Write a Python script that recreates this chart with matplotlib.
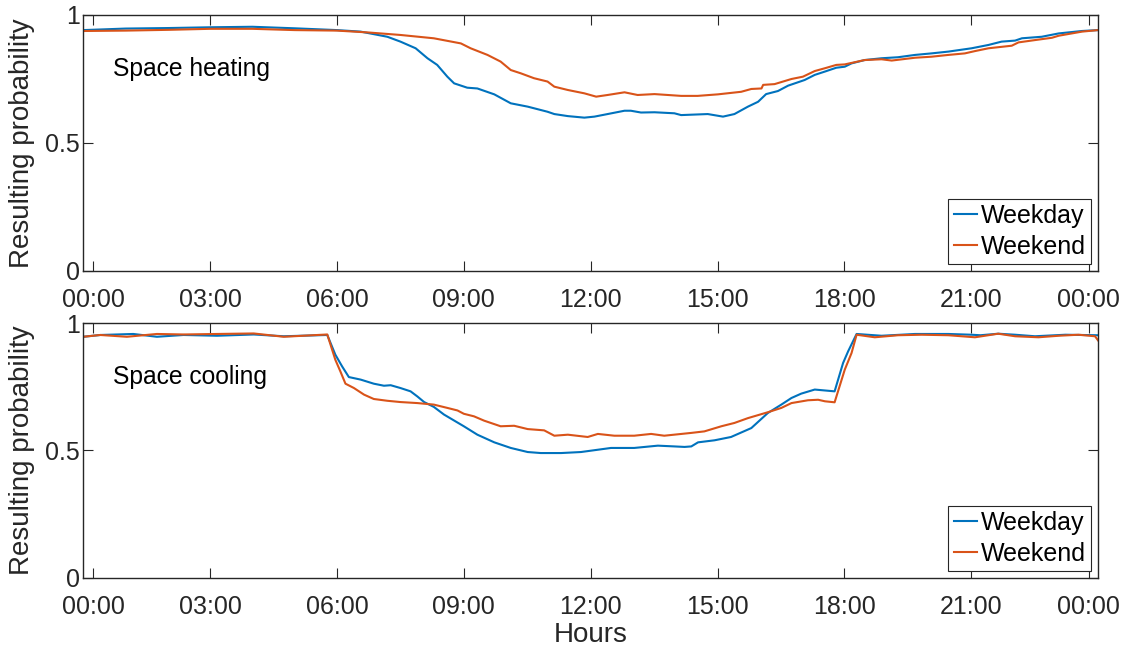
import matplotlib

matplotlib.use("Agg")
import matplotlib.pyplot as plt  # noqa: E402

plt.rcParams["font.family"] = ["Liberation Sans", "DejaVu Sans"]

BLUE = "#0072BD"
ORANGE = "#D95319"
INK = "#262626"
FS_TICK = 18
FS_LABEL = 20
FS_TEXT = 17.7

# --- Space heating, hours of day / probability ---
heat_wd_t = [0, 1, 2, 3, 4, 5, 6, 6.56, 7.19, 7.5, 7.86, 8.14, 8.37, 8.61, 8.77,
             9.08, 9.32, 9.72, 10.11, 10.51, 10.98, 11.14, 11.46, 11.85, 12.09,
             12.40, 12.80, 12.95, 13.19, 13.51, 13.98, 14.14, 14.77, 15.13, 15.40,
             15.72, 15.96, 16.15, 16.43, 16.67, 17.06, 17.30, 17.54, 17.81, 18.01,
             18.17, 18.48, 18.88, 19.27, 19.67, 20.06, 20.46, 21.01, 21.41, 21.72,
             22.04, 22.20, 22.67, 23.07, 23.62, 24]
heat_wd = [0.941, 0.947, 0.949, 0.952, 0.954, 0.948, 0.941, 0.935, 0.915, 0.896,
           0.870, 0.831, 0.805, 0.759, 0.733, 0.716, 0.713, 0.690, 0.655, 0.642,
           0.622, 0.613, 0.605, 0.599, 0.603, 0.613, 0.626, 0.626, 0.619, 0.620,
           0.616, 0.609, 0.613, 0.603, 0.613, 0.642, 0.661, 0.691, 0.703, 0.724,
           0.746, 0.766, 0.779, 0.794, 0.798, 0.811, 0.824, 0.831, 0.835, 0.844,
           0.850, 0.857, 0.870, 0.883, 0.896, 0.900, 0.909, 0.915, 0.928, 0.9375,
           0.941]
heat_we_t = [0, 1, 2, 3, 4, 5, 6, 6.72, 7.5, 8.29, 8.93, 9.16, 9.56, 9.87, 10.11,
             10.35, 10.66, 10.98, 11.14, 11.46, 11.85, 12.13, 12.40, 12.80, 13.11,
             13.51, 14.14, 14.53, 15.01, 15.56, 15.80, 16.04, 16.08, 16.35, 16.75,
             17.02, 17.30, 17.54, 17.81, 18.01, 18.48, 18.88, 19.12, 19.67, 20.06,
             20.46, 20.85, 21.09, 21.41, 21.96, 22.12, 22.51, 22.91, 23.07, 23.62, 24]
heat_we = [0.9375, 0.939, 0.942, 0.946, 0.946, 0.941, 0.939, 0.932, 0.922, 0.909,
           0.889, 0.870, 0.844, 0.818, 0.785, 0.772, 0.753, 0.740, 0.720, 0.707,
           0.694, 0.681, 0.6875, 0.698, 0.6875, 0.691, 0.684, 0.684, 0.690, 0.700,
           0.711, 0.713, 0.727, 0.730, 0.750, 0.759, 0.781, 0.792, 0.805, 0.807,
           0.824, 0.827, 0.822, 0.833, 0.837, 0.844, 0.850, 0.859, 0.870, 0.880,
           0.893, 0.902, 0.911, 0.919, 0.935, 0.941]

# --- Space cooling ---
cool_wd_t = [0, 0.40, 1.18, 1.74, 2.37, 3.16, 4.03, 4.74, 5.77, 5.96, 6.12, 6.28,
             6.56, 6.87, 7.11, 7.27, 7.50, 7.74, 7.90, 8.06, 8.29, 8.53, 9.00, 9.32,
             9.72, 10.11, 10.51, 10.82, 11.30, 11.77, 12.17, 12.48, 13.03, 13.59,
             13.98, 14.22, 14.38, 14.54, 14.93, 15.32, 15.80, 16.19, 16.51, 16.75,
             16.98, 17.30, 17.77, 17.97, 18.09, 18.29, 18.88, 19.67, 20.46, 21.01,
             21.22, 21.64, 22.04, 22.51, 23.23, 24]
cool_wd = [0.946, 0.953, 0.957, 0.946, 0.953, 0.950, 0.955, 0.948, 0.953, 0.876,
           0.830, 0.788, 0.778, 0.762, 0.754, 0.756, 0.745, 0.732, 0.712, 0.690,
           0.671, 0.641, 0.595, 0.562, 0.532, 0.510, 0.494, 0.490, 0.490, 0.494,
           0.503, 0.510, 0.510, 0.519, 0.516, 0.514, 0.516, 0.532, 0.540, 0.553,
           0.588, 0.647, 0.680, 0.706, 0.723, 0.739, 0.732, 0.843, 0.889, 0.957,
           0.950, 0.957, 0.957, 0.954, 0.952, 0.958, 0.954, 0.948, 0.954, 0.952]
cool_we_t = [0, 0.40, 1.03, 1.74, 2.37, 3.16, 4.03, 4.74, 5.77, 5.96, 6.08, 6.20,
             6.40, 6.64, 6.87, 7.19, 7.50, 7.90, 8.29, 8.61, 8.85, 9.00, 9.24, 9.48,
             9.87, 10.19, 10.51, 10.90, 11.14, 11.46, 11.93, 12.17, 12.56, 13.03,
             13.43, 13.74, 14.38, 14.69, 15.09, 15.40, 15.72, 16.19, 16.51, 16.75,
             17.14, 17.38, 17.54, 17.77, 18.01, 18.17, 18.29, 18.72, 19.27, 19.83,
             20.46, 21.09, 21.64, 22.04, 22.59, 23.07, 23.54, 23.93, 24]
cool_we = [0.946, 0.953, 0.946, 0.957, 0.955, 0.957, 0.959, 0.946, 0.955, 0.856,
           0.810, 0.762, 0.745, 0.719, 0.702, 0.695, 0.690, 0.686, 0.680, 0.667,
           0.657, 0.644, 0.634, 0.617, 0.595, 0.597, 0.584, 0.579, 0.558, 0.562,
           0.553, 0.565, 0.558, 0.558, 0.565, 0.558, 0.569, 0.575, 0.595, 0.608,
           0.627, 0.650, 0.667, 0.686, 0.697, 0.699, 0.693, 0.689, 0.817, 0.882,
           0.954, 0.944, 0.952, 0.954, 0.952, 0.944, 0.958, 0.948, 0.944, 0.950,
           0.954, 0.948, 0.932]

hour_ticks = [0.24, 3, 6, 9, 12, 15, 18, 21, 23.78]
hour_labels = ["00:00", "03:00", "06:00", "09:00", "12:00", "15:00", "18:00", "21:00", "00:00"]
prob_ticks = [0, 0.5, 1]
prob_labels = ["0", "0.5", "1"]


def style(ax, title):
    ax.set_xlim(0, 24)
    ax.set_ylim(0, 1)
    ax.set_xticks(hour_ticks, hour_labels)
    ax.set_yticks(prob_ticks, prob_labels)
    ax.tick_params(direction="in", length=7, width=0.8, top=True, right=True,
                   labelsize=FS_TICK, colors=INK)
    ax.tick_params(axis="x", pad=12.5)
    ax.tick_params(axis="y", pad=2.5)
    for sp in ax.spines.values():
        sp.set_color(INK)
        sp.set_linewidth(1.0)
    ax.set_ylabel("Resulting probability", fontsize=FS_LABEL, color=INK)
    ax.yaxis.set_label_coords(-0.048, 0.5)
    ax.text(0.70, 0.79, title, fontsize=FS_TEXT, color="black", ha="left", va="center")
    leg = ax.legend(loc="lower right", bbox_to_anchor=(0.993, 0.027), borderaxespad=0,
                    fontsize=FS_TICK, fancybox=False, framealpha=1, edgecolor=INK,
                    handlelength=0.95, handletextpad=0.12, borderpad=0.22,
                    labelspacing=0.26)
    leg.get_frame().set_linewidth(0.8)


fig = plt.figure(figsize=(11.37, 6.52), dpi=100)
ax1 = fig.add_axes([0.0733, 0.5844, 0.8924, 0.3926])
ax2 = fig.add_axes([0.0733, 0.1135, 0.8924, 0.3911])

ax1.plot(heat_wd_t, heat_wd, color=BLUE, lw=1.5, label="Weekday")
ax1.plot(heat_we_t, heat_we, color=ORANGE, lw=1.5, label="Weekend")
style(ax1, "Space heating")

ax2.plot(cool_wd_t, cool_wd, color=BLUE, lw=1.5, label="Weekday")
ax2.plot(cool_we_t, cool_we, color=ORANGE, lw=1.5, label="Weekend")
style(ax2, "Space cooling")
ax2.set_xlabel("Hours", fontsize=FS_LABEL, color=INK, labelpad=2)

fig.savefig("out.png", dpi=100)
